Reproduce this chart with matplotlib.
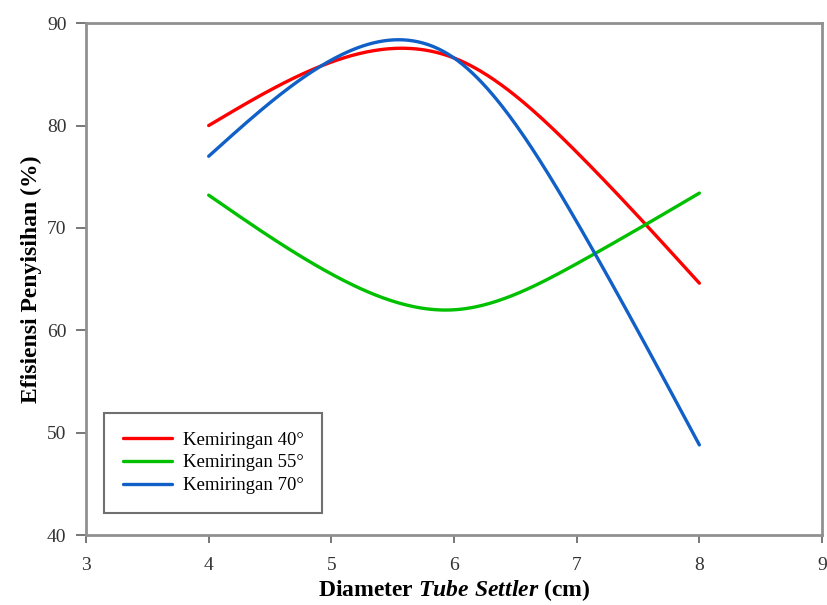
import numpy as np
import matplotlib.pyplot as plt

diameter = [4, 5, 6, 7, 8]
eff_40 = [80.0, 86.2, 86.6, 77.4, 64.6]
eff_55 = [73.2, 65.5, 62.0, 66.5, 73.4]
eff_70 = [77.0, 86.4, 86.6, 70.6, 48.8]


def smooth(x, y, n=200):
    # natural cubic spline, only to draw the smoothed line through the points
    x = np.asarray(x, float)
    y = np.asarray(y, float)
    k = len(x)
    h = np.diff(x)
    A = np.zeros((k, k))
    b = np.zeros(k)
    A[0, 0] = A[-1, -1] = 1
    for i in range(1, k - 1):
        A[i, i-1] = h[i-1]
        A[i, i] = 2 * (h[i-1] + h[i])
        A[i, i+1] = h[i]
        b[i] = 3 * ((y[i+1] - y[i]) / h[i] - (y[i] - y[i-1]) / h[i-1])
    c = np.linalg.solve(A, b)
    xs = np.linspace(x[0], x[-1], n)
    ys = np.empty(n)
    for j, xv in enumerate(xs):
        i = min(np.searchsorted(x, xv, side="right") - 1, k - 2)
        dx = xv - x[i]
        bb = (y[i+1] - y[i]) / h[i] - h[i] * (2 * c[i] + c[i+1]) / 3
        d = (c[i+1] - c[i]) / (3 * h[i])
        ys[j] = y[i] + bb * dx + c[i] * dx**2 + d * dx**3
    return xs, ys


plt.rcParams['font.family'] = ['Liberation Serif', 'DejaVu Serif']
plt.rcParams['mathtext.fontset'] = 'custom'
plt.rcParams['mathtext.it'] = 'Liberation Serif:italic:bold'
plt.rcParams['mathtext.rm'] = 'Liberation Serif:bold'

fig = plt.figure(figsize=(8.27, 6.05), dpi=100)
ax = fig.add_axes([0.104, 0.1157, 0.890, 0.846])

series = [(eff_40, "#ff0000", "Kemiringan 40°"),
          (eff_55, "#00c000", "Kemiringan 55°"),
          (eff_70, "#1060c8", "Kemiringan 70°")]
for vals, col, lab in series:
    xs, ys = smooth(diameter, vals)
    ax.plot(xs, ys, color=col, lw=2.4, label=lab, solid_capstyle="round")

ax.set_xlim(3, 9)
ax.set_ylim(40, 90)
ax.set_xticks(np.arange(3, 10, 1))
ax.set_yticks(np.arange(40, 91, 10))
for s in ax.spines.values():
    s.set_color("#909090")
    s.set_linewidth(2)
ax.tick_params(direction="out", length=7, width=1.2, color="#606060",
               labelsize=14, labelcolor="#333333")
ax.tick_params(axis="x", pad=10, length=6)
ax.tick_params(axis="y", pad=7)

ax.set_xlabel(r"Diameter $\it{Tube\ Settler}$ (cm)", fontsize=17, fontweight="bold", labelpad=2)
ax.set_ylabel("Efisiensi Penyisihan (%)", fontsize=17, fontweight="bold", labelpad=4)

leg = ax.legend(loc="lower left", bbox_to_anchor=(0.0245, 0.043), borderaxespad=0,
                fontsize=13.5, fancybox=False, edgecolor="#707070", framealpha=1,
                handlelength=2.6, handletextpad=0.6, borderpad=1.0, labelspacing=0.3)
leg.get_frame().set_linewidth(1.5)

fig.savefig("out.png", dpi=100)
